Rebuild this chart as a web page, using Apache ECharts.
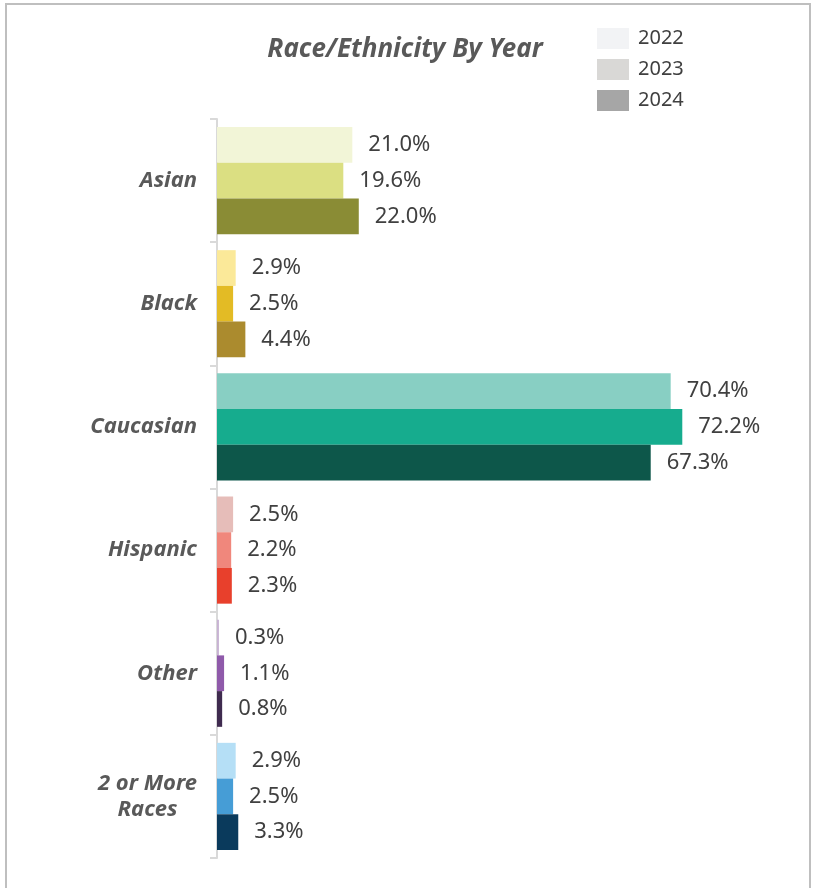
<!DOCTYPE html>
<html>
<head>
<meta charset="utf-8">
<script src="https://cdn.jsdelivr.net/npm/echarts@6/dist/echarts.min.js"></script>
<style>
  html, body { margin: 0; padding: 0; background: #ffffff; }
  #chart { width: 819px; height: 888px; }
</style>
</head>
<body>
<div id="chart"></div>
<script>
// Race/ethnicity share by year (percent)
const categories = ['Asian', 'Black', 'Caucasian', 'Hispanic', 'Other', '2 or More\nRaces'];
const years = ['2022', '2023', '2024'];
const values2022 = [21.0, 2.9, 70.4, 2.5, 0.3, 2.9];
const values2023 = [19.6, 2.5, 72.2, 2.2, 1.1, 2.5];
const values2024 = [22.0, 4.4, 67.3, 2.3, 0.8, 3.3];

// Legend swatch colours (neutral greys)
const legendColors = ['#f2f3f5', '#d9d8d6', '#a6a6a6'];

// Each category has its own light / medium / dark shade per year
const colors2022 = ['#f2f5d7', '#fbe999', '#88cfc3', '#e6bdb9', '#c8b3d3', '#b5dff6'];
const colors2023 = ['#dbdf82', '#e3bb25', '#16ac8e', '#f0877c', '#8f5aaa', '#469dd6'];
const colors2024 = ['#8a8c35', '#ab8b2e', '#0d574a', '#e8402c', '#3f2b4f', '#0a3a5c'];

const chart = echarts.init(document.getElementById('chart'), null, { renderer: 'canvas' });

function makeSeries(name, vals, cols, legendColor) {
  return {
    name: name,
    type: 'bar',
    barGap: '0%',
    barCategoryGap: '13%',
    itemStyle: { color: legendColor },
    data: vals.map((v, i) => ({ value: v, itemStyle: { color: cols[i] } })),
    label: {
      show: true,
      position: 'right',
      distance: 16,
      color: '#404040',
      fontFamily: 'Noto Sans',
      fontSize: 22,
      formatter: p => p.value.toFixed(1) + '%'
    },
    emphasis: { disabled: true }
  };
}

chart.setOption({
  animation: false,
  backgroundColor: '#ffffff',
  title: {
    text: 'Race/Ethnicity By Year',
    left: 400,
    textAlign: 'center',
    top: 32,
    textStyle: {
      fontFamily: 'Noto Sans',
      fontSize: 26,
      fontWeight: 'bold',
      fontStyle: 'italic',
      color: '#595959'
    }
  },
  legend: {
    orient: 'vertical',
    left: 592,
    top: 23,
    itemWidth: 32,
    itemHeight: 21,
    itemGap: 10,
    icon: 'rect',
    textStyle: { fontFamily: 'Noto Sans', fontSize: 20, color: '#404040', padding: [0, 0, 0, 4] },
    data: years
  },
  graphic: [{
    type: 'rect',
    shape: { x: 6, y: 4, width: 804, height: 900 },
    style: { fill: 'none', stroke: '#bfbfbf', lineWidth: 2 },
    silent: true
  }],
  grid: { left: 217, top: 119, width: 580, height: 739, containLabel: false },
  xAxis: {
    type: 'value',
    min: 0,
    max: 90,
    show: false
  },
  yAxis: {
    type: 'category',
    inverse: true,
    offset: 2,
    data: categories,
    axisLine: { show: true, lineStyle: { color: '#d9d9d9', width: 2 } },
    axisTick: { show: true, length: 7, lineStyle: { color: '#d9d9d9', width: 2 } },
    axisLabel: {
      margin: 18,
      formatter: v => v.split('\n').map(s => '{c|' + s + '}').join('\n'),
      rich: {
        c: {
          align: 'center',
          fontFamily: 'Noto Sans',
          fontSize: 22,
          fontWeight: 'bold',
          fontStyle: 'italic',
          color: '#595959',
          lineHeight: 26
        }
      }
    }
  },
  series: [
    makeSeries(years[0], values2022, colors2022, legendColors[0]),
    makeSeries(years[1], values2023, colors2023, legendColors[1]),
    makeSeries(years[2], values2024, colors2024, legendColors[2])
  ]
});
</script>
</body>
</html>
